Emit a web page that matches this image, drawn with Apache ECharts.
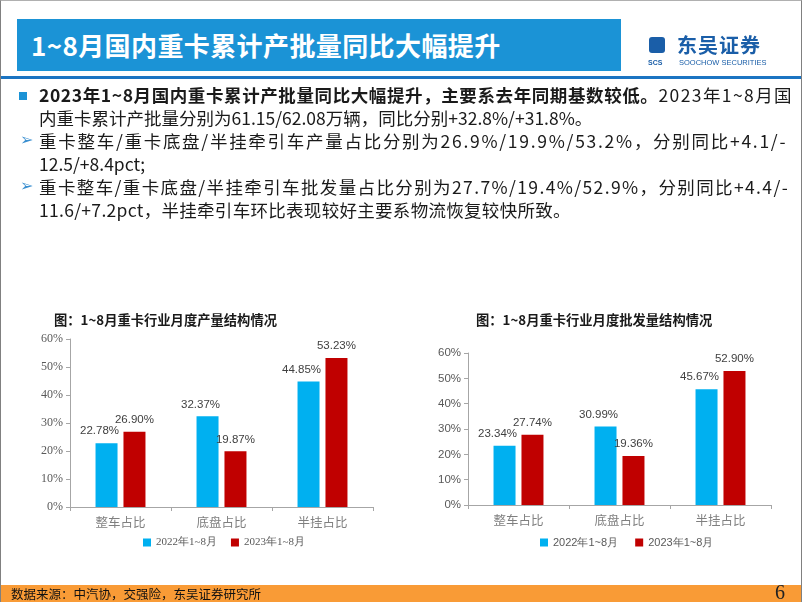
<!DOCTYPE html>
<html><head><meta charset="utf-8">
<script src="https://cdn.jsdelivr.net/npm/echarts@6/dist/echarts.min.js"></script>
<style>
html,body{margin:0;padding:0;background:#fff;}
#slide{position:relative;width:802px;height:602px;overflow:hidden;box-sizing:border-box;border-left:1px solid #808080;border-right:1px solid #808080;border-top:1px solid #b0b0b0;font-family:"Noto Sans CJK SC","Noto Sans",sans-serif;}
#hdr{position:absolute;left:16px;top:18px;width:604px;height:52px;background:#1b93d6;}
#hdr span{position:absolute;left:14px;top:7px;color:#fff;font-weight:bold;font-size:26px;letter-spacing:0.4px;white-space:nowrap;}
#rule{position:absolute;left:0;top:75px;width:802px;height:3px;background:#1b74c2;}
#logo1{position:absolute;left:676px;top:33px;font-size:20px;line-height:22px;font-weight:bold;color:#1a5ea8;letter-spacing:1px;}
#logo2{position:absolute;left:678px;top:57px;font-size:7.5px;line-height:9px;color:#1a5ea8;font-family:"Liberation Sans",sans-serif;}
#icon{position:absolute;left:648px;top:36px;width:16px;height:16px;border-radius:3px;background:#1a5ea8;}
#icon2{position:absolute;left:647px;top:57px;font-size:7px;line-height:9px;font-weight:bold;color:#1a5ea8;font-family:"Liberation Sans",sans-serif;}
#txt{position:absolute;left:38px;top:82px;font-size:17.5px;line-height:23px;color:#1a1a1a;white-space:nowrap;}
.b{font-weight:bold;}
.sq{position:absolute;left:18px;top:91px;width:8px;height:8px;background:#1b93d6;}
.ar{position:absolute;left:19px;font-size:16px;color:#3a8fd0;font-family:"DejaVu Sans";}
#foot{position:absolute;left:0;top:584px;width:802px;height:18px;background:#f99b36;}
#foot span{position:absolute;left:10px;top:0px;font-size:12.5px;color:#111;line-height:18px;}
#pg{position:absolute;left:774px;top:-4px;font-size:20px;color:#222;font-family:"Liberation Serif",serif;}
#chart{position:absolute;left:0;top:0;width:802px;height:602px;}
</style></head>
<body>
<div id="slide">
<div id="chart"></div>
<div id="hdr"><span>1~8月国内重卡累计产批量同比大幅提升</span></div>
<div id="rule"></div>
<div id="icon"></div><div id="icon2">SCS</div>
<div id="logo1">东吴证券</div>
<div id="logo2">SOOCHOW SECURITIES</div>
<div class="sq"></div>
<div class="ar" style="top:129px">➢</div>
<div class="ar" style="top:175px">➢</div>
<div id="txt">
<span class="b" style="letter-spacing:0.6px">2023年1~8月国内重卡累计产批量同比大幅提升，主要系去年同期基数较低。</span><span style="letter-spacing:1.4px">2023年1~8月国</span><br>
内重卡累计产批量分别为61.15/62.08万辆，同比分别+32.8%/+31.8%。<br>
<span style="letter-spacing:1.72px">重卡整车/重卡底盘/半挂牵引车产量占比分别为26.9%/19.9%/53.2%，分别同比+4.1/-</span><br>
12.5/+8.4pct;<br>
<span style="letter-spacing:1.38px">重卡整车/重卡底盘/半挂牵引车批发量占比分别为27.7%/19.4%/52.9%，分别同比+4.4/-</span><br>
<span style="letter-spacing:0.3px">11.6/+7.2pct，半挂牵引车环比表现较好主要系物流恢复较快所致。</span>
</div>
<div id="foot"><span>数据来源：中汽协，交强险，东吴证券研究所</span><div id="pg">6</div></div>
</div>
<script>
const categories = ['整车占比', '底盘占比', '半挂占比'];
const seriesNames = ['2022年1~8月', '2023年1~8月'];
const prod2022 = [22.78, 32.37, 44.85];
const prod2023 = [26.90, 19.87, 53.23];
const sales2022 = [23.34, 30.99, 45.67];
const sales2023 = [27.74, 19.36, 52.90];
const chartTitles = ['图：1~8月重卡行业月度产量结构情况', '图：1~8月重卡行业月度批发量结构情况'];

const BLUE = '#00b0f0', RED = '#c00000';
const chart = echarts.init(document.getElementById('chart'), null, {renderer: 'canvas'});

function xAxis(gi) {
  return {
    type: 'category', gridIndex: gi, data: categories,
    axisLine: {lineStyle: {color: '#a6a6a6'}},
    axisTick: {show: true, length: 4, lineStyle: {color: '#a6a6a6'}},
    axisLabel: {color: '#7f7f7f', fontSize: 12.5, margin: 9, fontFamily: 'Noto Sans CJK SC'}
  };
}
function yAxis(gi, serif) {
  return {
    type: 'value', gridIndex: gi, min: 0, max: 60, interval: 10,
    axisLine: {show: true, lineStyle: {color: '#a6a6a6'}},
    axisTick: {show: true, length: 4, lineStyle: {color: '#a6a6a6'}},
    splitLine: {show: false},
    axisLabel: {formatter: '{value}%', color: '#595959', fontSize: serif ? 12 : 11.5, margin: 7,
      fontFamily: serif ? 'Liberation Serif' : 'Liberation Sans'}
  };
}
function bar(name, data, gi, color, off) {
  return {
    type: 'bar', name: name, xAxisIndex: gi, yAxisIndex: gi, data: data,
    barWidth: 22, barGap: '27%',
    itemStyle: {color: color},
    label: {show: true, position: 'top', distance: 6, offset: [off, 0], color: '#404040', fontSize: 11.5,
      fontFamily: 'Liberation Sans', formatter: p => p.value.toFixed(2) + '%'}
  };
}

chart.setOption({
  animation: false,
  title: [
    {text: chartTitles[0], left: 48, top: 307, textStyle: {fontSize: 13.3, fontWeight: 'bold', color: '#1a1a1a', fontFamily: 'Noto Sans CJK SC'}},
    {text: chartTitles[1], left: 470, top: 307, textStyle: {fontSize: 13.3, fontWeight: 'bold', color: '#1a1a1a', fontFamily: 'Noto Sans CJK SC'}}
  ],
  legend: [
    {data: seriesNames, left: 137, top: 531, itemWidth: 8, itemHeight: 8, itemGap: 14, icon: 'rect',
      textStyle: {color: '#595959', fontSize: 11, fontFamily: 'Liberation Serif'}},
    {data: [{name: seriesNames[0] + ' ', icon: 'rect', itemStyle: {color: BLUE}}, {name: seriesNames[1] + ' ', icon: 'rect', itemStyle: {color: RED}}],
      left: 534, top: 531, itemWidth: 8, itemHeight: 8, itemGap: 14,
      textStyle: {color: '#595959', fontSize: 11, fontFamily: 'Liberation Sans'}}
  ],
  grid: [
    {left: 69, top: 338, width: 303, height: 168},
    {left: 467, top: 352, width: 303, height: 152}
  ],
  xAxis: [xAxis(0), xAxis(1)],
  yAxis: [yAxis(0, true), yAxis(1, false)],
  series: [
    bar(seriesNames[0], prod2022, 0, BLUE, -7),
    bar(seriesNames[1], prod2023, 0, RED, 0),
    bar(seriesNames[0] + ' ', sales2022, 1, BLUE, -7),
    bar(seriesNames[1] + ' ', sales2023, 1, RED, 0)
  ]
});
</script>
</body></html>
